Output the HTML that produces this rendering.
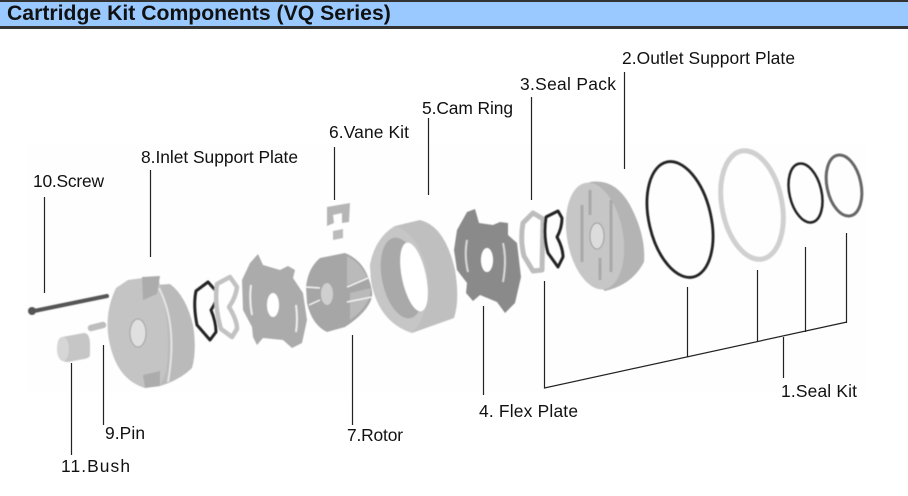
<!DOCTYPE html>
<html>
<head>
<meta charset="utf-8">
<style>
html,body{margin:0;padding:0;background:#fff}
#p{position:relative;width:908px;height:496px;overflow:hidden;background:#fff;font-family:"Liberation Sans",sans-serif}
#h{position:absolute;left:0;top:0;width:908px;height:29px;box-sizing:border-box;background:#99c9ff;border-top:2px solid #333;border-bottom:3px solid #333}
#h span{position:absolute;left:7px;top:0;font-weight:bold;font-size:21.2px;line-height:24px;color:#111;white-space:nowrap}
svg{position:absolute;left:0;top:0}
text{font-family:"Liberation Sans",sans-serif;font-size:17.4px;fill:#111}
</style>
</head>
<body>
<div id="p">
<div id="h"><span>Cartridge Kit Components (VQ Series)</span></div>
<svg width="908" height="496" viewBox="0 0 908 496">
<defs><filter id="b" x="-5%" y="-5%" width="110%" height="110%"><feGaussianBlur stdDeviation="0.45"/></filter></defs>
<rect x="25" y="143" width="840" height="250" fill="#fefefe"/>
<g filter="url(#b)">
<!-- screw -->
<path d="M34 311 L107 296" stroke="#555" stroke-width="4" stroke-linecap="round"/>
<circle cx="32" cy="311" r="4" fill="#555"/>
<!-- pin -->
<path d="M91 328 L103 325" stroke="#bdbdbd" stroke-width="6.5" stroke-linecap="round"/>
<!-- bush -->
<path d="M62 337 L84 333 Q90 333 90 345 L90 355 Q90 358 84 359 L68 362 Q58 362 57 350 Q57 338 62 337Z" fill="#c6c6c6"/>
<ellipse cx="63" cy="349" rx="6" ry="12" fill="#d6d6d6"/>
<!-- inlet support plate -->
<path d="M156 285 L170 284 Q186 296 193 325 Q197 350 192 368 Q180 380 160 386 Z" fill="#bababa"/>
<path d="M116 288 L128 280 L158 276 L161 290 Q172 330 166 372 L160 386 L145 388 Q118 380 110 345 Q103 315 116 288Z" fill="#c4c4c4"/>
<path d="M159 288 Q178 325 168 382" fill="none" stroke="#e4e4e4" stroke-width="2"/>
<path d="M142 277 L160 276 L157 294 L143 300Z" fill="#acacac"/>
<path d="M143 375 L160 371 L160 386 L145 388Z" fill="#acacac"/>
<ellipse cx="138" cy="333" rx="8" ry="14" fill="#e0e0e0" stroke="#a0a0a0"/>
<!-- seal black wavy -->
<path d="M196 291 L208 282 L216 291 Q218 300 211 310 Q216 322 216 332 L210 340 L197 325 Q193 305 196 291Z" fill="none" stroke="#222" stroke-width="3" stroke-linejoin="round"/>
<!-- seal pack gray -->
<path d="M217 284 L230 277 L237 287 Q236 297 229 307 Q237 320 237 329 L232 337 L221 329 Q214 305 217 284Z" fill="none" stroke="#c2c2c2" stroke-width="4.5" stroke-linejoin="round"/>
<!-- plate 8 -->
<path d="M242 280 L250 263 L258 254 L263 265 L280 270 L288 266 L295 270 L293 278 L303 293 L307 320 L302 343 L292 348 L283 340 L263 338 L257 345 L253 337 L252 327 L243 310Z" fill="#ababab"/>
<ellipse cx="273" cy="305" rx="6" ry="12" fill="#fff"/>
<path d="M251 285 Q249 300 252 315 M296 305 Q298 320 296 332" stroke="#eee" stroke-width="2" fill="none"/>
<!-- vane kit -->
<path d="M327 207 L350 203 L349 222 L342 223 L342 213 L333 215 L334 223 L327 226Z" fill="#b5b5b5"/>
<path d="M333 231 L343 229 L343 238 L333 240Z" fill="#bbb"/>
<!-- rotor -->
<path d="M306 287 Q308 268 320 258 L345 253 Q362 260 368 277 Q373 290 372 297 Q368 312 345 327 L327 332 Q312 325 307 303Z" fill="#a6a6a6"/>
<path d="M347 256 Q360 262 367 277 L347 285Z M350 293 L371 288 Q371 305 350 320Z" fill="#bababa"/>
<path d="M306 287 L320 288 M309 305 L320 300 M347 287 L368 278 M347 302 L372 297" stroke="#f2f2f2" stroke-width="1.5"/>
<ellipse cx="327" cy="294" rx="6" ry="11" fill="#cfcfcf"/>
<!-- cam ring -->
<path d="M370 265 Q375 238 395 226 L420 220 Q445 226 455 270 Q460 300 454 318 L412 333 Q378 322 371 280Z" fill="#bfbfbf"/>
<path d="M370 265 Q375 238 395 226 Q422 235 428 280 Q428 318 412 333 Q378 322 371 280Z" fill="#c6c6c6"/>
<ellipse cx="402" cy="278" rx="20" ry="41" transform="rotate(-12 402 278)" fill="#a9a9a9"/>
<ellipse cx="414" cy="277" rx="12" ry="35" transform="rotate(-12 414 277)" fill="#fff"/>
<!-- flex plate 4 -->
<path d="M457 230 L467 212 L475 209 L479 223 L493 225 L500 222 L508 223 L508 235 L517 243 L521 277 L515 303 L505 313 L497 302 L480 295 L473 301 L466 293 L467 283 L457 270 L454 250Z" fill="#8a8a8a"/>
<ellipse cx="487" cy="260" rx="6" ry="12" fill="#fff"/>
<path d="M467 240 Q464 255 468 272 M503 243 Q507 260 503 282" stroke="#d8d8d8" stroke-width="2" fill="none"/>
<!-- seal pack 3 -->
<path d="M523 223 L533 213 L543 219 L542 270 L533 271 L524 256 Q520 240 523 223Z" fill="#fff" stroke="#bdbdbd" stroke-width="5" stroke-linejoin="round"/>
<!-- black wavy 3 -->
<path d="M546 217 L558 211 L562 218 Q562 228 557 237 Q563 248 563 257 L558 267 L548 253 Q543 236 546 217Z" fill="none" stroke="#222" stroke-width="3" stroke-linejoin="round"/>
<!-- outlet support plate -->
<path d="M590 182 Q615 178 630 205 Q646 235 644 262 Q632 285 605 291 Q575 270 568 235 Q568 195 590 182Z" fill="#b4b4b4"/>
<ellipse cx="595" cy="236" rx="28" ry="54" transform="rotate(-10 595 236)" fill="#c6c6c6"/>
<ellipse cx="597" cy="236" rx="7" ry="13" fill="#dcdcdc" stroke="#9a9a9a"/>
<path d="M582 205 V262 M590 190 V215 M600 258 V280 M611 200 V272" stroke="#a8a8a8" stroke-width="3" fill="none"/>
<!-- rings -->
<ellipse cx="680" cy="219.5" rx="31" ry="59" transform="rotate(-13 680 219.5)" fill="none" stroke="#222" stroke-width="2.8"/>
<ellipse cx="752" cy="205" rx="30" ry="55" transform="rotate(-11 752 205)" fill="none" stroke="#d0d0d0" stroke-width="5"/>
<ellipse cx="805.5" cy="193" rx="16" ry="30" transform="rotate(-13 805.5 193)" fill="none" stroke="#222" stroke-width="2.5"/>
<ellipse cx="844" cy="185.5" rx="17" ry="31" transform="rotate(-12 844 185.5)" fill="none" stroke="#666" stroke-width="3"/>
</g>
<!-- leader lines -->
<g stroke="#222" stroke-width="1.2" fill="none">
<path d="M44.5 197V293M150.5 170V257M334.5 147V200M428.5 118V195M531.5 97V200M624.5 72V169"/>
<path d="M103.5 345V425M71.5 363V455M352.5 335V425M483.5 306V395"/>
<path d="M544.5 281V388L847 322M687.5 287V357M757.5 270V342M805.5 247V332M846.5 233V323M783.5 337V378"/>
</g>
<text x="622" y="64" textLength="173">2.Outlet Support Plate</text>
<text x="520" y="90" textLength="96">3.Seal Pack</text>
<text x="422" y="114" textLength="91">5.Cam Ring</text>
<text x="329" y="138" textLength="80">6.Vane Kit</text>
<text x="141" y="163" textLength="157">8.Inlet Support Plate</text>
<text x="33" y="187" textLength="71">10.Screw</text>
<text x="781" y="397" textLength="76">1.Seal Kit</text>
<text x="479" y="417" textLength="99">4. Flex Plate</text>
<text x="105" y="439" textLength="40">9.Pin</text>
<text x="347" y="441" textLength="56">7.Rotor</text>
<text x="61" y="472" textLength="69">11.Bush</text>
</svg>
</div>
</body>
</html>
